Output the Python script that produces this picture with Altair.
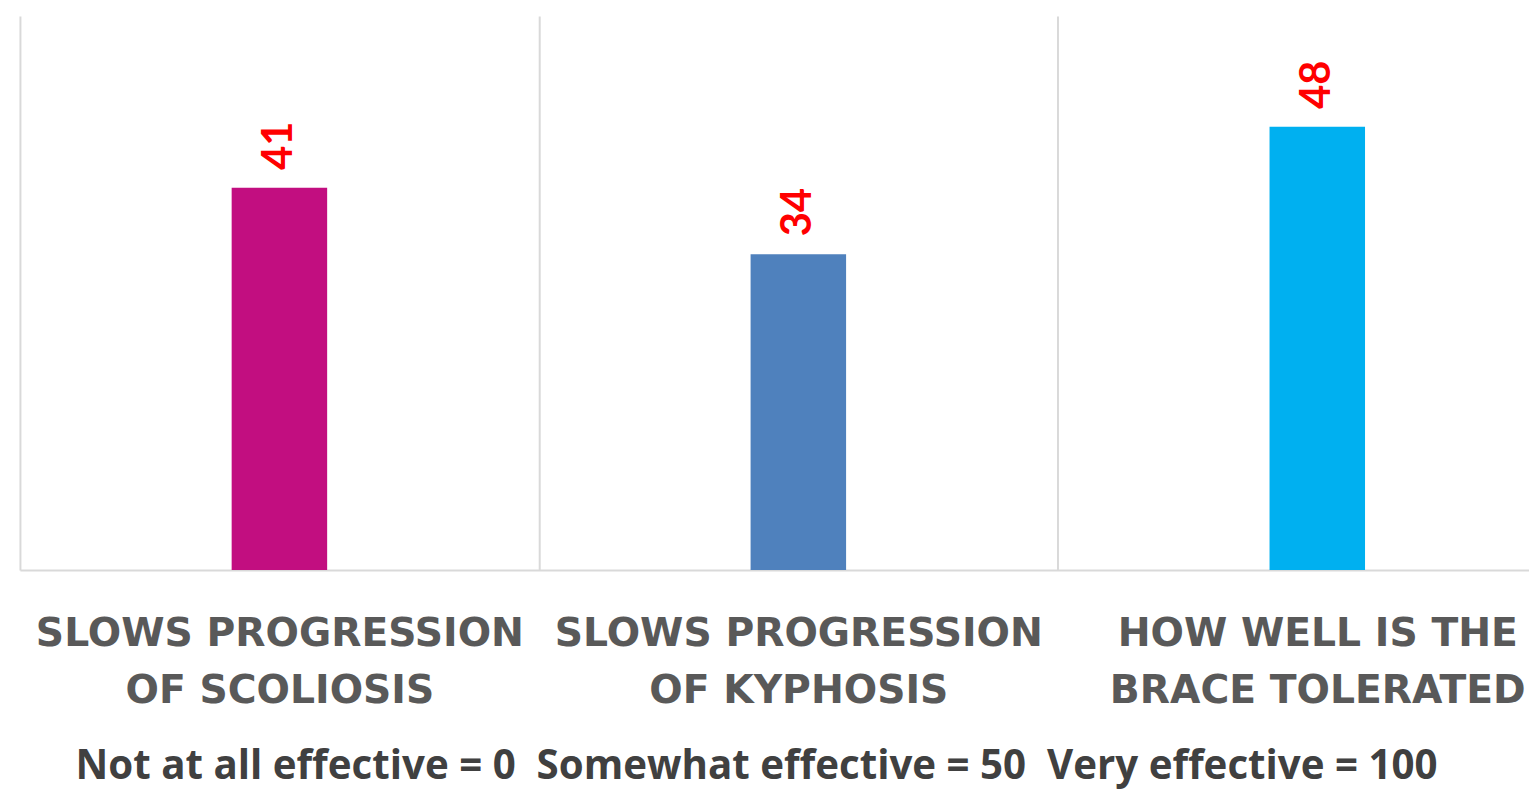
import altair as alt
import pandas as pd

categories = [
    "SLOWS PROGRESSION|OF SCOLIOSIS",
    "SLOWS PROGRESSION|OF KYPHOSIS",
    "HOW WELL IS THE|BRACE TOLERATED",
]
values = [41.4, 34.2, 48.0]
colors = ["#C20E80", "#4F81BD", "#00B0F0"]
y_max = 60
footnote = "Not at all effective = 0\u00a0 Somewhat effective = 50\u00a0 Very effective = 100"

df = pd.DataFrame({"category": categories, "value": values, "color": colors})

x_enc = alt.X(
    "category:N",
    sort=None,
    scale=alt.Scale(range=[0, 1565], paddingInner=0, paddingOuter=0),
    axis=alt.Axis(
        title=None,
        grid=True,
        gridColor="#D9D9D9",
        gridWidth=2,
        tickBand="extent",
        ticks=False,
        domainColor="#D9D9D9",
        domainWidth=2,
        labelAngle=0,
        labelFont="DejaVu Sans",
        labelFontWeight="bold",
        labelFontSize=39.5,
        labelColor="#595959",
        labelPadding=45,
        labelLineHeight=57,
        labelLimit=700,
        labelOverlap=False,
        labelExpr="split(datum.label, '|')",
    ),
)
y_enc = alt.Y("value:Q", scale=alt.Scale(domain=[0, y_max], nice=False), axis=None)

bars = alt.Chart(df).mark_bar(size=96).encode(
    x=x_enc,
    y=y_enc,
    color=alt.Color("color:N", scale=None),
)

labels = alt.Chart(df).mark_text(
    angle=270,
    align="left",
    baseline="middle",
    dx=18,
    color="#FF0000",
    font="Lato",
    fontWeight="bold",
    fontSize=42,
).encode(
    x=alt.X("category:N", sort=None),
    y=alt.Y("value:Q"),
    text=alt.Text("value:Q", format=".0f"),
)

chart = (
    alt.layer(bars, labels)
    .properties(
        width=1517,
        height=557,
        autosize=alt.AutoSizeParams(type="none"),
        padding={"left": 12, "top": 6, "right": 0, "bottom": 220},
        title=alt.TitleParams(
            text=footnote,
            orient="bottom",
            anchor="middle",
            font="Open Sans",
            fontSize=40.5,
            fontWeight="bold",
            color="#404040",
            offset=37,
            dx=-18,
        ),
    )
    .configure_view(stroke=None)
)

chart.save("out.html", embed_options={"renderer": "svg", "actions": False})
